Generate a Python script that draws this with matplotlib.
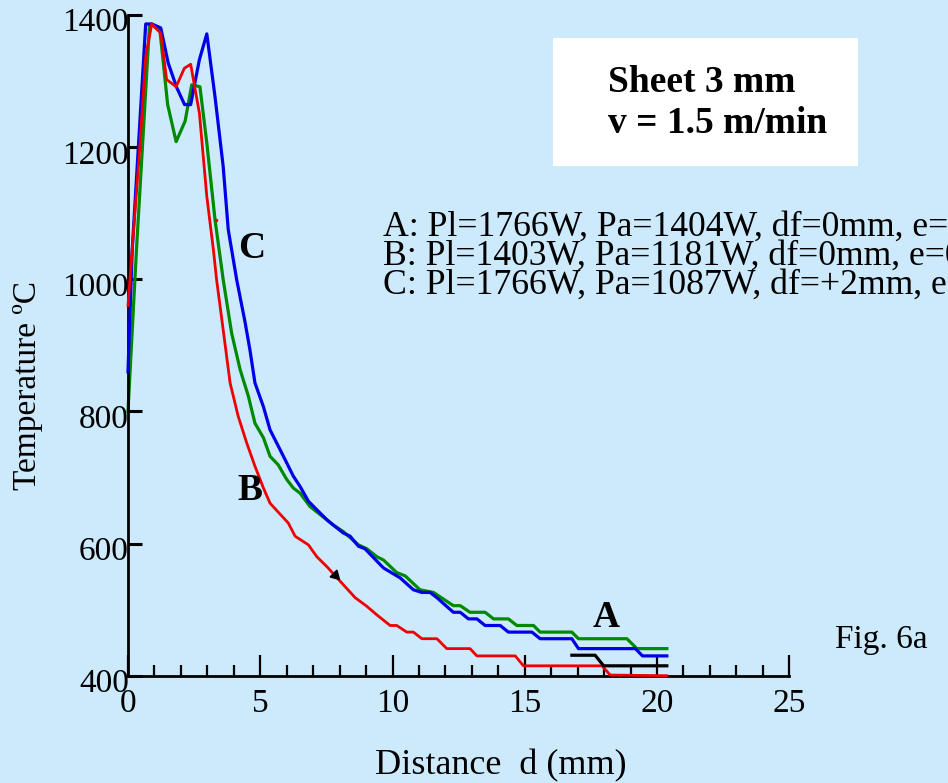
import matplotlib
matplotlib.use("Agg")
import matplotlib.pyplot as plt
from matplotlib.patches import Rectangle
from matplotlib.transforms import ScaledTranslation

plt.rcParams["font.family"] = ["Liberation Serif", "DejaVu Serif"]

# Temperature profiles (distance in mm, temperature in deg C)
blue_x = [0.0, 0.16, 0.67, 0.90, 1.24, 1.52, 1.84, 2.14, 2.37, 2.70, 2.98, 3.29,
          3.60, 3.79, 4.11, 4.43, 4.61, 4.80, 5.12, 5.37, 5.75, 6.25, 6.51, 6.82,
          7.14, 7.52, 7.76, 8.14, 8.40, 8.71, 8.96, 9.66, 10.29, 10.79, 11.11,
          11.42, 11.68, 12.30, 12.56, 12.87, 13.19, 13.50, 14.07, 14.38, 15.27,
          15.58, 16.78, 17.03, 19.18, 19.45, 20.37]
blue_t = [860, 1044, 1386, 1386, 1380, 1327, 1290, 1264, 1264, 1332, 1371, 1276,
          1170, 1075, 999, 934, 893, 843, 807, 772, 742, 702, 686, 664,
          651, 636, 628, 616, 611, 596, 592, 563, 548, 530, 526,
          526, 518, 496, 496, 486, 486, 476, 476, 466, 466,
          456, 456, 441, 441, 430, 430]

green_x = [0.0, 0.32, 0.81, 0.90, 1.21, 1.50, 1.82, 2.16, 2.41, 2.72, 2.98, 3.29,
           3.60, 3.92, 4.24, 4.55, 4.80, 5.12, 5.37, 5.68, 6.00, 6.25, 6.51, 6.88,
           7.26, 7.76, 8.14, 8.71, 9.03, 9.41, 9.66, 10.16, 10.48, 11.04, 11.55,
           12.30, 12.56, 12.93, 13.50, 13.82, 14.38, 14.70, 15.33, 15.58, 16.78,
           17.03, 18.86, 19.24, 20.37]
green_t = [800, 1044, 1382, 1386, 1375, 1264, 1208, 1239, 1294, 1291, 1206, 1090,
           999, 918, 863, 823, 782, 760, 732, 719, 697, 684, 676, 656,
           644, 628, 618, 598, 592, 580, 575, 556, 551, 530, 526,
           506, 506, 496, 496, 486, 486, 476, 476, 466, 466,
           456, 456, 441, 441]

red_x = [0.0, 0.45, 0.67, 0.90, 1.24, 1.46, 1.82, 2.13, 2.37, 2.70, 2.98, 3.23,
         3.35, 3.60, 3.86, 4.17, 4.49, 4.80, 5.12, 5.37, 6.06, 6.32, 6.82, 7.14,
         7.52, 8.02, 8.59, 9.03, 9.41, 9.91, 10.16, 10.54, 10.79, 11.11, 11.68,
         12.05, 12.93, 13.19, 14.64, 14.95, 17.92, 18.23, 20.37]
red_t = [960, 1201, 1337, 1386, 1372, 1302, 1291, 1319, 1325, 1251, 1125, 1044,
         999, 923, 843, 792, 752, 717, 684, 661, 631, 611, 598, 580,
         565, 543, 518, 505, 492, 476, 476, 466, 466, 456, 456,
         441, 441, 430, 430, 415, 415, 401, 400]

black_x = [16.78, 17.66, 17.98, 20.37]
black_t = [431, 431, 415, 415]

# small stray marks on the original
arrow_pt = (7.83, 553)
red_dot = (3.33, 1089)

y_ticks = [400, 600, 800, 1000, 1200, 1400]
x_ticks = [0, 5, 10, 15, 20, 25]

legend_lines = [
    "A: Pl=1766W, Pa=1404W, df=0mm, e=0",
    "B: Pl=1403W, Pa=1181W, df=0mm, e=0",
    "C: Pl=1766W, Pa=1087W, df=+2mm, e=0",
]

bg = "#cceafc"

fig = plt.figure(figsize=(9.48, 7.83), dpi=100, facecolor=bg)
ax = fig.add_axes([0.135, 0.137, 0.6976, 0.8442])
ax.set_facecolor(bg)

ax.plot(blue_x, blue_t, color="#0000e6", lw=2.3, clip_on=False, zorder=3)
ax.plot(green_x, green_t, color="#008a00", lw=2.3, clip_on=False, zorder=2)
ax.plot(red_x, red_t, color="#ee0000", lw=2.0, clip_on=False, zorder=4)
ax.plot(black_x, black_t, color="black", lw=2.3, clip_on=False, zorder=5)
ax.plot(*arrow_pt, marker=(3, 0, -135), color="black", ms=8, zorder=6)
ax.plot(*red_dot, marker="o", color="#ee0000", ms=1.5, zorder=6)

ax.set_xlim(0, 25)
ax.set_ylim(400, 1400)
for s in ["top", "right"]:
    ax.spines[s].set_visible(False)
ax.spines["left"].set_linewidth(2.0)
ax.spines["bottom"].set_linewidth(2.0)

ax.set_xticks(x_ticks)
ax.set_xticks(range(0, 26), minor=True)
ax.set_xticklabels([str(v) for v in x_ticks], fontsize=24)
ax.tick_params(axis="x", which="major", direction="in", length=15, width=1.6, pad=9)
ax.tick_params(axis="x", which="minor", direction="in", length=8, width=1.6)

ax.set_yticks(y_ticks)
ax.set_yticklabels([])
ax.tick_params(axis="y", which="major", direction="in", length=10, width=2.2)
off = ScaledTranslation(0.01, -0.085, fig.dpi_scale_trans)
for v in y_ticks:
    ax.text(0, v, str(v), fontsize=24, ha="right", va="center",
            transform=ax.get_yaxis_transform() + off, clip_on=False)

fig.text(0.029, 0.508, "Temperature ºC", rotation=90, fontsize=24,
         ha="center", va="center")
fig.text(0.528, 0.022, "Distance  d (mm)", fontsize=26, ha="center", va="center")

# info box
fig.add_artist(Rectangle((0.583, 0.788), 0.322, 0.164, transform=fig.transFigure,
                         facecolor="white", edgecolor="none"))
fig.text(0.641, 0.8825, "Sheet 3 mm", fontsize=27, fontweight="bold", va="baseline")
fig.text(0.641, 0.830, "v = 1.5 m/min", fontsize=27, fontweight="bold", va="baseline")

for i, line in enumerate(legend_lines):
    fig.text(0.404, 0.699 - i * 0.037, line, fontsize=25.7, va="baseline")

fig.text(0.265, 0.683, "C", fontsize=27, fontweight="bold", ha="center", va="center")
fig.text(0.264, 0.374, "B", fontsize=27, fontweight="bold", ha="center", va="center")
fig.text(0.639, 0.212, "A", fontsize=27, fontweight="bold", ha="center", va="center")
fig.text(0.881, 0.183, "Fig. 6a", fontsize=24, va="center")

fig.savefig("out.png", dpi=100, facecolor=bg)
